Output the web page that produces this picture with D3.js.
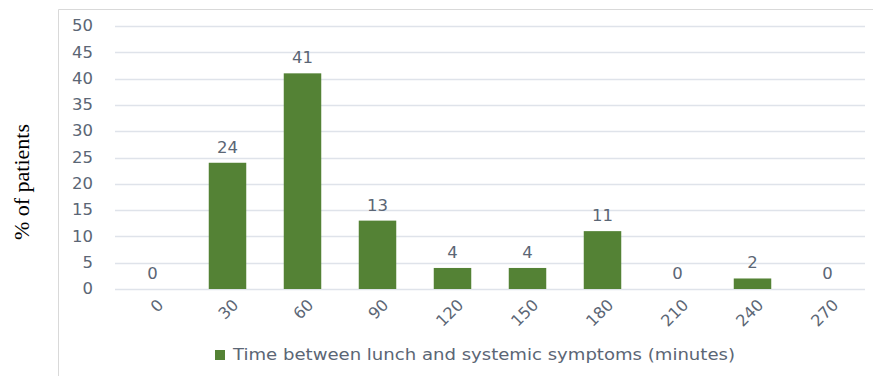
<!DOCTYPE html>
<html>
<head>
<meta charset="utf-8">
<script src="https://cdn.jsdelivr.net/npm/d3@7"></script>
<style>
body { margin: 0; background: #fff; }
text { font-family: "DejaVu Sans", sans-serif; }
</style>
</head>
<body>
<svg width="873" height="376"></svg>
<script>
var categories = ["0", "30", "60", "90", "120", "150", "180", "210", "240", "270"];
var values = [0, 24, 41, 13, 4, 4, 11, 0, 2, 0];
var yTicks = [0, 5, 10, 15, 20, 25, 30, 35, 40, 45, 50];
var seriesName = "Time between lunch and systemic symptoms (minutes)";

var svg = d3.select("svg");
var textColor = "#5b6675";
var green = "#548235";

// chart frame
svg.append("path")
    .attr("d", "M58.5,376V9.5H873")
    .attr("fill", "none")
    .attr("stroke", "#d9d9d9");

var x = d3.scaleBand().domain(categories).range([115, 865]).paddingInner(0.5).paddingOuter(0.25);
var y = d3.scaleLinear().domain([0, 50]).range([289, 26]);

// gridlines
svg.append("g").selectAll("line").data(yTicks).enter().append("line")
    .attr("x1", 115).attr("x2", 865)
    .attr("y1", function(d){ return Math.round(y(d)) + 0.5; })
    .attr("y2", function(d){ return Math.round(y(d)) + 0.5; })
    .attr("stroke", "#dfe3ea")
    .attr("stroke-width", 1.3);

// y labels
svg.append("g").selectAll("text").data(yTicks).enter().append("text")
    .attr("transform", function(d){ return "translate(93," + y(d) + ") scale(1.1,1)"; })
    .attr("dy", "0.35em")
    .attr("text-anchor", "end")
    .attr("fill", textColor)
    .style("font-size", "15px")
    .text(function(d){ return d; });

// bars
svg.append("g").selectAll("rect").data(values).enter().append("rect")
    .attr("x", function(d, i){ return x(categories[i]); })
    .attr("width", x.bandwidth())
    .attr("y", function(d){ return y(d); })
    .attr("height", function(d){ return y(0) - y(d); })
    .attr("fill", green);

// data labels
svg.append("g").selectAll("text").data(values).enter().append("text")
    .attr("transform", function(d, i){
        return "translate(" + (x(categories[i]) + x.bandwidth() / 2) + "," + (y(d) - 10) + ") scale(1.1,1)";
    })
    .attr("text-anchor", "middle")
    .attr("fill", textColor)
    .style("font-size", "15px")
    .text(function(d){ return d; });

// x labels
svg.append("g").selectAll("text").data(categories).enter().append("text")
    .attr("transform", function(d){
        var cx = x(d) + x.bandwidth() / 2;
        return "translate(" + (cx + 8) + ",302) rotate(-45)";
    })
    .attr("text-anchor", "end")
    .attr("dy", "0.35em")
    .attr("fill", textColor)
    .style("font-size", "16px")
    .text(function(d){ return d; });

// y title
svg.append("text")
    .attr("transform", "translate(29,182) rotate(-90)")
    .attr("text-anchor", "middle")
    .attr("fill", "#000")
    .style("font-family", "'Liberation Serif', serif")
    .style("font-size", "22px")
    .text("% of patients");

// legend
svg.append("rect")
    .attr("x", 215).attr("y", 350).attr("width", 10).attr("height", 10)
    .attr("fill", green);
svg.append("text")
    .attr("x", 233).attr("y", 355)
    .attr("dy", "0.35em")
    .attr("fill", textColor)
    .attr("textLength", 502)
    .attr("lengthAdjust", "spacingAndGlyphs")
    .style("font-size", "15px")
    .text(seriesName);
</script>
</body>
</html>
